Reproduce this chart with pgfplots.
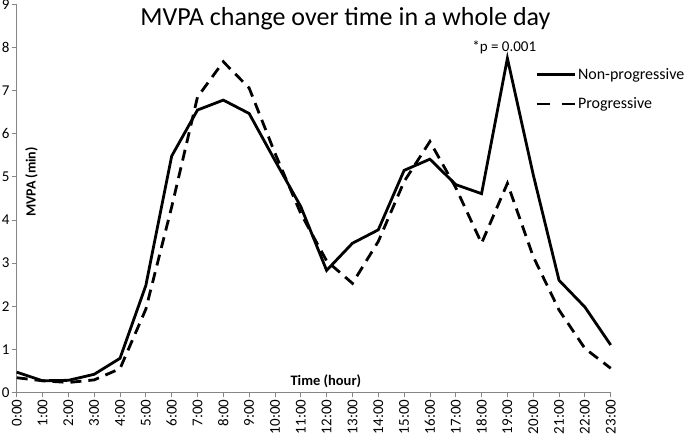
\documentclass[border=0pt]{standalone}
\usepackage{fontspec}
\setmainfont{Carlito}
\usepackage{pgfplots}
\pgfplotsset{compat=1.18}
\definecolor{axgray}{HTML}{868686}
\begin{document}
\begin{tikzpicture}
\begin{axis}[
  scale only axis,
  width=594bp, height=388bp,
  xmin=0, xmax=23, ymin=0, ymax=9,
  axis lines=left,
  axis line style={-, axgray, line width=0.8bp},
  xtick={0,...,23},
  xticklabels={0:00,1:00,2:00,3:00,4:00,5:00,6:00,7:00,8:00,9:00,10:00,11:00,12:00,13:00,14:00,15:00,16:00,17:00,18:00,19:00,20:00,21:00,22:00,23:00},
  ytick={0,...,9},
  tick align=outside,
  major tick length=5bp,
  tick style={axgray, line width=0.8bp},
  x tick label style={rotate=90, anchor=east, font=\fontsize{15bp}{17bp}\selectfont, inner sep=2bp},
  y tick label style={font=\fontsize{15bp}{17bp}\selectfont, inner sep=2bp},
  /pgf/number format/assume math mode=true,
  clip=false,
  legend style={at={(axis cs:20.07,7.03)}, anchor=west, draw=none, fill=none,
    font=\fontsize{16bp}{18bp}\selectfont, inner sep=0pt, row sep=13bp,
    /tikz/every even column/.append style={column sep=0bp}},
  legend cell align=left,
  legend image code/.code={\draw[#1] (0bp,0bp) -- (38bp,0bp);},
]
\addplot[black, line width=2.8bp] coordinates {
(0,0.47) (1,0.27) (2,0.28) (3,0.42) (4,0.79) (5,2.48) (6,5.48) (7,6.55) (8,6.78) (9,6.47) (10,5.38) (11,4.31) (12,2.83) (13,3.46) (14,3.77) (15,5.15) (16,5.41) (17,4.82) (18,4.61) (19,7.75) (20,5.05) (21,2.6) (22,1.98) (23,1.1)
};
\addlegendentry{Non-progressive}
\addplot[black, line width=2.8bp, dash pattern=on 11bp off 7bp,
  legend image code/.code={\draw[black, line width=2.8bp, dash pattern=on 13bp off 12bp] (0bp,0bp) -- (38bp,0bp);}] coordinates {
(0,0.34) (1,0.27) (2,0.23) (3,0.29) (4,0.55) (5,1.93) (6,4.3) (7,6.85) (8,7.67) (9,7.06) (10,5.55) (11,4.15) (12,3.05) (13,2.53) (14,3.5) (15,4.89) (16,5.82) (17,4.75) (18,3.46) (19,4.85) (20,3.15) (21,1.91) (22,1.02) (23,0.56)
};
\addlegendentry{Progressive}
\node[anchor=base, font=\fontsize{26bp}{30bp}\selectfont] at (axis cs:12.73,8.5) {MVPA change over time in a whole day};
\node[font=\fontsize{15bp}{17bp}\selectfont] at (axis cs:18.88,8.01) {*p = 0.001};
\node[rotate=90, font=\bfseries\fontsize{14bp}{16bp}\selectfont] at (axis cs:0.57,4.88) {MVPA (min)};
\node[font=\bfseries\fontsize{14.5bp}{16bp}\selectfont] at (axis cs:11.97,0.26) {Time (hour)};
\end{axis}
\pgfresetboundingbox
\path (-16.7bp,-42.6bp) rectangle (668.3bp,392.4bp);
\end{tikzpicture}
\end{document}
